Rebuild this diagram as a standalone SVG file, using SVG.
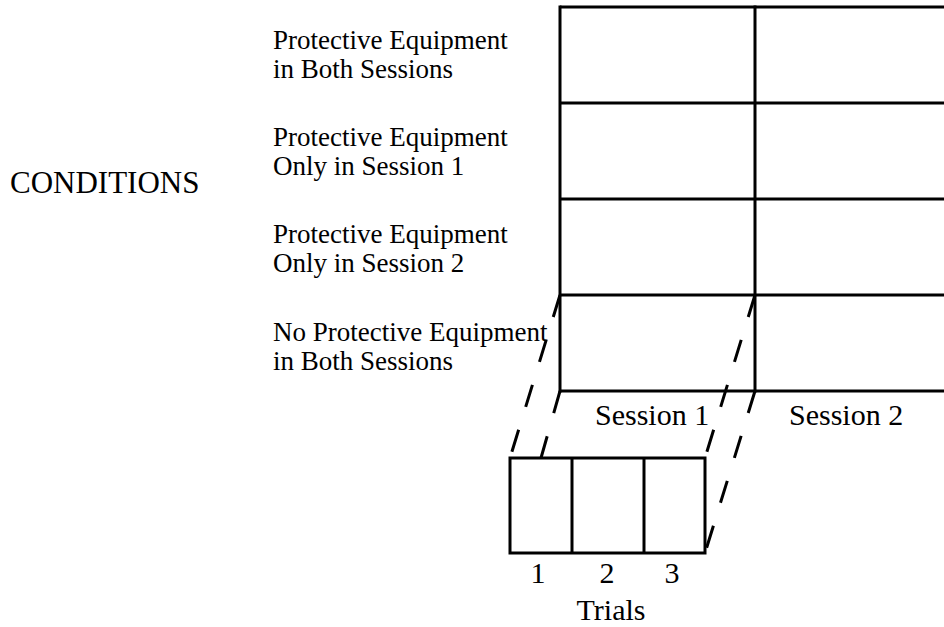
<svg xmlns="http://www.w3.org/2000/svg" width="944" height="627" viewBox="0 0 944 627">
  <style>
    .t { font-family: "Liberation Serif", "Times New Roman", serif; fill: #000; }
    .c { font-size: 27px; }
    .s { font-size: 30px; }
    .ln { stroke: #000; stroke-width: 3; fill: none; }
    .dash { stroke: #000; stroke-width: 3; fill: none; stroke-dasharray: 23 24; }
  </style>
  <rect width="944" height="627" fill="#fff"/>

  <g id="conditions-label">
    <text class="t" font-size="31" x="10" y="193">CONDITIONS</text>
  </g>

  <g id="cond1">
    <text class="t c" x="273" y="49">Protective Equipment</text>
    <text class="t c" x="273" y="78">in Both Sessions</text>
  </g>
  <g id="cond2">
    <text class="t c" x="273" y="146">Protective Equipment</text>
    <text class="t c" x="273" y="175">Only in Session 1</text>
  </g>
  <g id="cond3">
    <text class="t c" x="273" y="243">Protective Equipment</text>
    <text class="t c" x="273" y="272">Only in Session 2</text>
  </g>
  <g id="cond4">
    <text class="t c" x="273" y="341">No Protective Equipment</text>
    <text class="t c" x="273" y="370">in Both Sessions</text>
  </g>

  <g id="grid">
    <line class="ln" x1="560" y1="7" x2="944" y2="7"/>
    <line class="ln" x1="560" y1="103" x2="944" y2="103"/>
    <line class="ln" x1="560" y1="199" x2="944" y2="199"/>
    <line class="ln" x1="560" y1="295" x2="944" y2="295"/>
    <line class="ln" x1="560" y1="391" x2="944" y2="391"/>
    <line class="ln" x1="560" y1="5.5" x2="560" y2="392.5"/>
    <line class="ln" x1="755" y1="5.5" x2="755" y2="392.5"/>
  </g>

  <g id="session-labels">
    <text class="t s" x="595" y="425">Session 1</text>
    <text class="t s" x="789" y="425">Session 2</text>
  </g>

  <g id="trials-box">
    <rect class="ln" x="510" y="458" width="195" height="95"/>
    <line class="ln" x1="572" y1="458" x2="572" y2="553"/>
    <line class="ln" x1="644" y1="458" x2="644" y2="553"/>
    <text class="t s" x="538" y="583" text-anchor="middle">1</text>
    <text class="t s" x="607" y="583" text-anchor="middle">2</text>
    <text class="t s" x="672" y="583" text-anchor="middle">3</text>
    <text class="t s" x="611" y="620" text-anchor="middle">Trials</text>
  </g>

  <g id="connectors">
    <line class="dash" x1="560" y1="295" x2="510" y2="458"/>
    <line class="dash" x1="560" y1="391" x2="541" y2="458"/>
    <line class="dash" x1="755" y1="295" x2="705" y2="458"/>
    <line class="dash" x1="755" y1="391" x2="705" y2="553"/>
  </g>
</svg>
